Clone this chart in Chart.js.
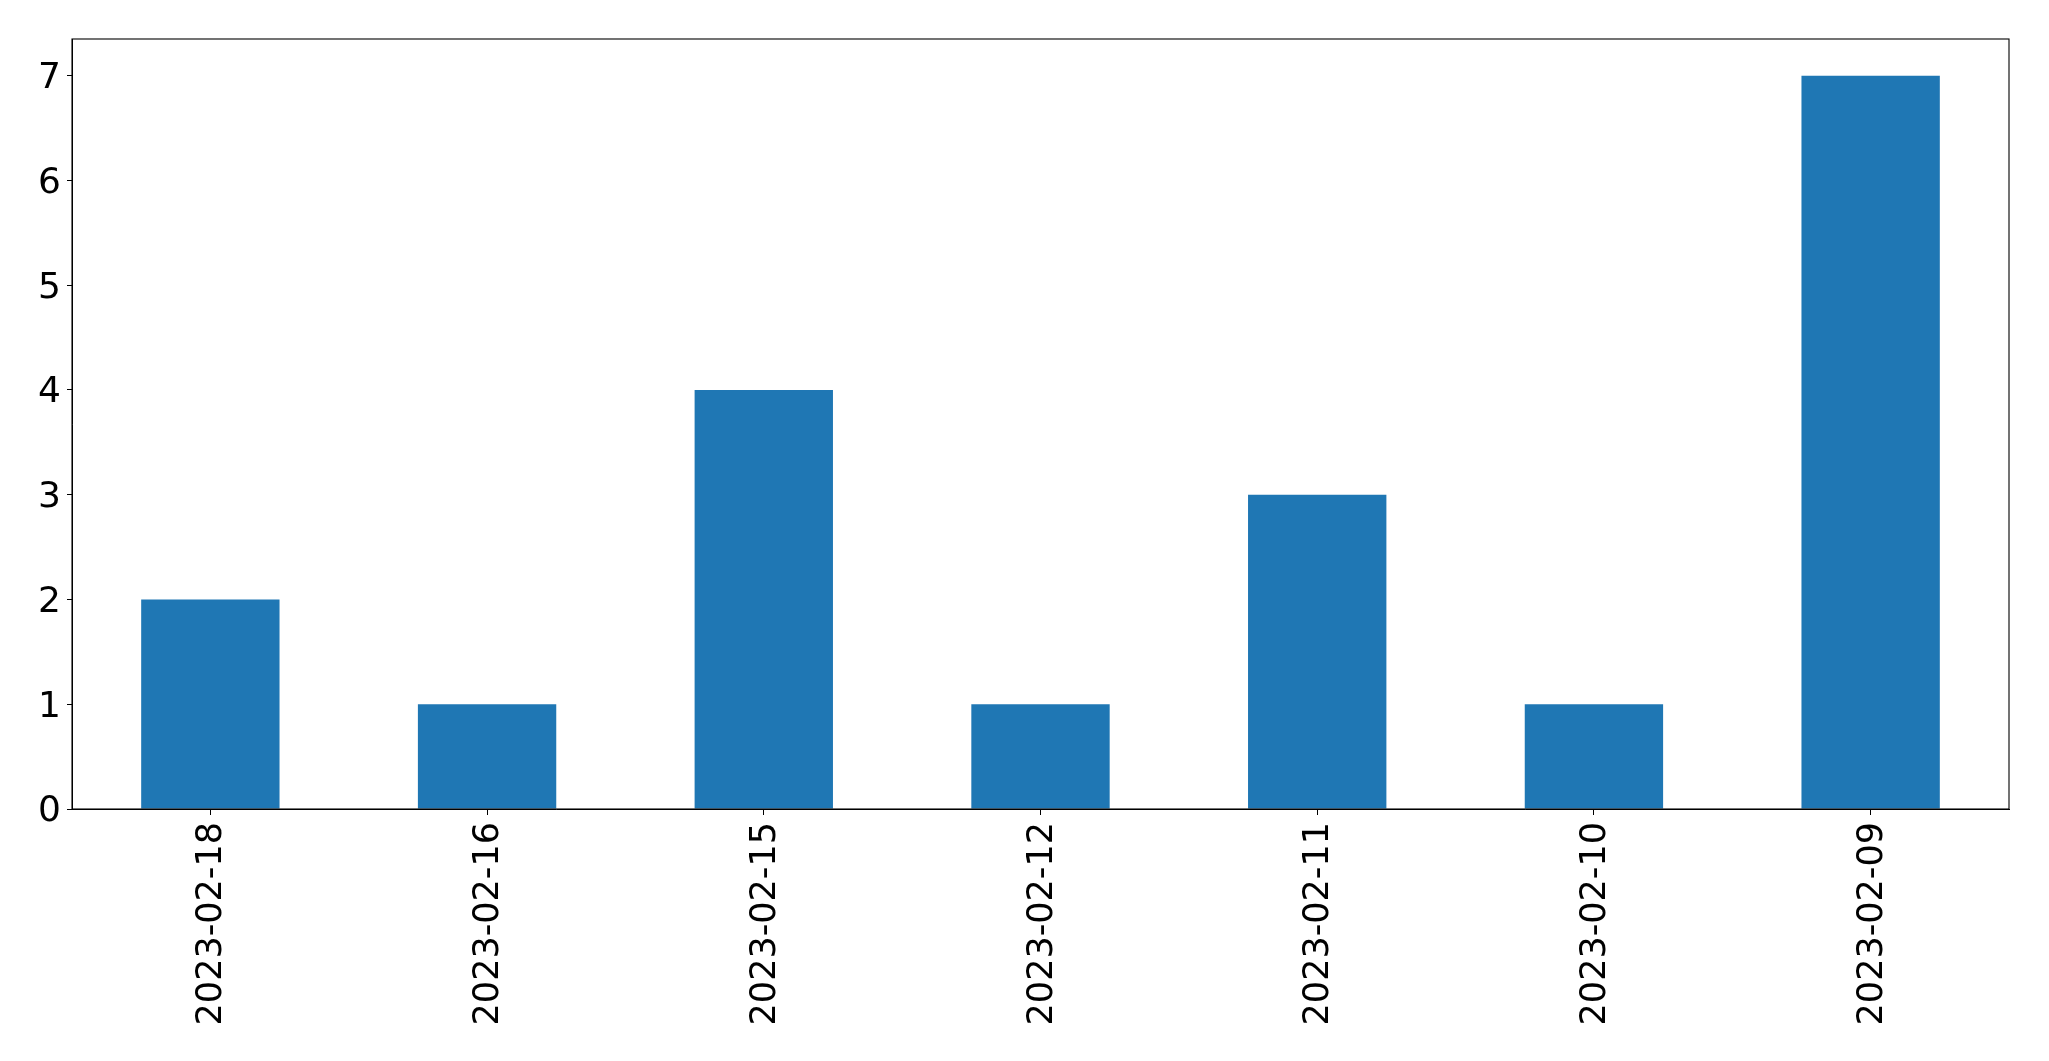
<!DOCTYPE html>
<html lang="en">
<head>
    <meta charset="UTF-8">
    <title>Counts by date</title>
    <script src="https://cdn.jsdelivr.net/npm/chart.js"></script>
    <style>
        html, body {
            margin: 0;
            padding: 0;
            background: #ffffff;
        }
        canvas {
            display: block;
        }
    </style>
</head>
<body>
    <canvas id="barChart" width="2049" height="1061"></canvas>

    <script>
        const dates = ['2023-02-18', '2023-02-16', '2023-02-15', '2023-02-12', '2023-02-11', '2023-02-10', '2023-02-09'];
        const counts = [2, 1, 4, 1, 3, 1, 7];
        const yTicks = [0, 1, 2, 3, 4, 5, 6, 7];

        // matplotlib-style frame round the plot area
        const frame = {
            id: 'frame',
            afterDraw(chart) {
                const { ctx, chartArea: a } = chart;
                ctx.save();
                ctx.strokeStyle = '#000';
                ctx.lineWidth = 1.1;
                ctx.strokeRect(a.left, a.top, a.right - a.left, a.bottom - a.top);
                ctx.restore();
            }
        };

        new Chart(document.getElementById('barChart'), {
            type: 'bar',
            data: {
                labels: dates,
                datasets: [{
                    data: counts,
                    backgroundColor: '#1f77b4',
                    borderWidth: 0,
                    categoryPercentage: 1.0,
                    barPercentage: 0.5
                }]
            },
            options: {
                responsive: false,
                animation: false,
                layout: { padding: { top: 39, right: 40, left: 0, bottom: 0 } },
                plugins: {
                    legend: { display: false },
                    tooltip: { enabled: false }
                },
                scales: {
                    x: {
                        offset: true,
                        afterFit(scale) { scale.height = 252; },
                        grid: {
                            offset: false,
                            drawOnChartArea: false,
                            drawTicks: true,
                            tickLength: 6,
                            tickColor: '#000',
                            tickWidth: 1
                        },
                        border: { color: '#000', width: 1 },
                        ticks: {
                            color: '#000',
                            font: { family: 'DejaVu Sans', size: 35 },
                            minRotation: 90,
                            maxRotation: 90,
                            padding: 7,
                            labelOffset: 2,
                            autoSkip: false
                        }
                    },
                    y: {
                        min: 0,
                        max: 7.35,
                        afterFit(scale) { scale.width = 72; },
                        afterBuildTicks(scale) {
                            scale.ticks = yTicks.map(v => ({ value: v }));
                        },
                        grid: {
                            drawOnChartArea: false,
                            drawTicks: true,
                            tickLength: 5,
                            tickColor: '#000',
                            tickWidth: 1
                        },
                        border: { color: '#000', width: 1 },
                        ticks: {
                            color: '#000',
                            font: { family: 'DejaVu Sans', size: 36 },
                            padding: 6,
                            labelOffset: 3
                        }
                    }
                }
            },
            plugins: [frame]
        });
    </script>
</body>
</html>
